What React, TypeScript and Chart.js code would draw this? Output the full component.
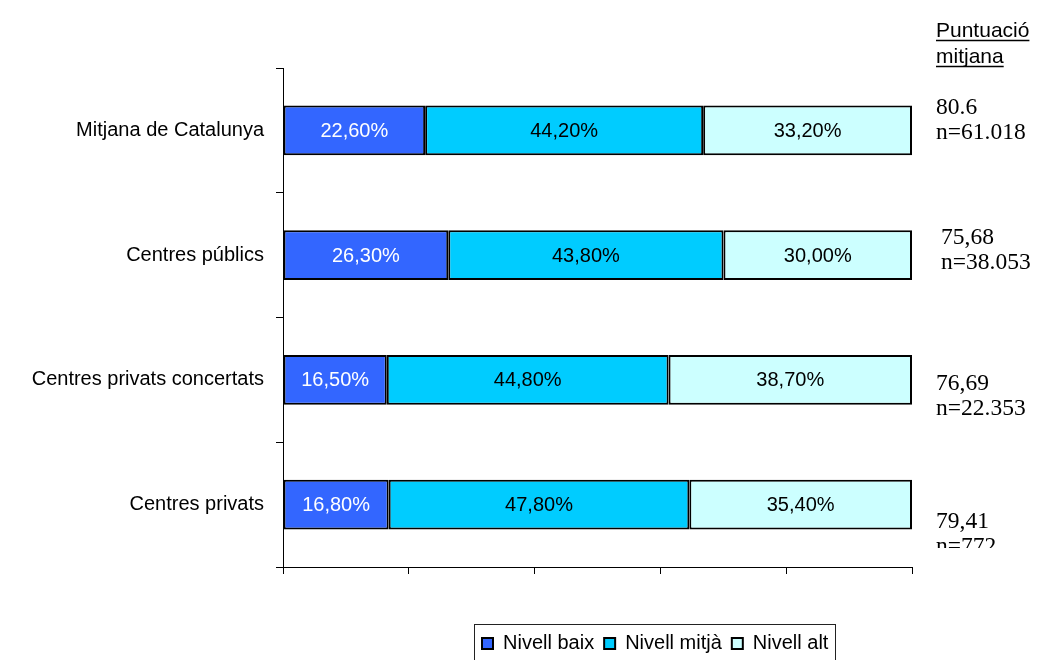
import React, { useEffect, useRef } from 'react';
import { Chart, registerables } from 'chart.js';

Chart.register(...registerables);

// ---- data ----
const categories = ['Mitjana de Catalunya', 'Centres públics', 'Centres privats concertats', 'Centres privats'];
const seriesNames = ['Nivell baix', 'Nivell mitjà', 'Nivell alt'];
const nivellBaix = [22.6, 26.3, 16.5, 16.8];
const nivellMitja = [44.2, 43.8, 44.8, 47.8];
const nivellAlt = [33.2, 30.0, 38.7, 35.4];
const scores = ['80.6', '75,68', '76,69', '79,41'];
const counts = ['n=61.018', 'n=38.053', 'n=22.353', 'n=772'];
const headerLines = ['Puntuació', 'mitjana'];

// ---- style / layout ----
const colors = ['#3366FF', '#00CCFF', '#CCFFFF'];
const SANS = '"Liberation Sans", Arial, sans-serif';
const SERIF = '"Liberation Serif", "Times New Roman", serif';
const annX = [936, 941, 936, 936];
const annDy = [-16, -11, 10, 23];

const raw = [nivellBaix, nivellMitja, nivellAlt];
const totals = categories.map((_, i) => raw.reduce((s, arr) => s + arr[i], 0));
const fmt = (v: number) => v.toFixed(2).replace('.', ',') + '%';

const barLabels = {
  id: 'barLabels',
  afterDatasetsDraw(chart: any) {
    const ctx = chart.ctx;
    ctx.save();
    ctx.font = `20px ${SANS}`;
    ctx.textAlign = 'center';
    ctx.textBaseline = 'middle';
    chart.data.datasets.forEach((_ds: any, di: number) => {
      const meta = chart.getDatasetMeta(di);
      meta.data.forEach((bar: any, i: number) => {
        const { x, y, base } = bar.getProps(['x', 'y', 'base'], true);
        ctx.fillStyle = di === 0 ? '#FFFFFF' : '#000000';
        ctx.fillText(fmt(raw[di][i]), (x + base) / 2, y + 1);
      });
    });
    ctx.restore();
  },
};

const sideNotes = {
  id: 'sideNotes',
  afterLayout(chart: any) {
    const lg = chart.legend;
    if (lg) {
      const h = lg.height;
      lg.left = 472;
      lg.top = 623.5;
      lg.bottom = lg.top + h;
    }
  },
  afterDraw(chart: any) {
    const ctx = chart.ctx;
    ctx.save();
    // header
    ctx.font = `21px ${SANS}`;
    ctx.fillStyle = '#000';
    ctx.strokeStyle = '#000';
    ctx.lineWidth = 1.5;
    ctx.textAlign = 'left';
    ctx.textBaseline = 'alphabetic';
    headerLines.forEach((t, i) => {
      const yb = 37 + i * 26;
      ctx.fillText(t, 936, yb);
      const w = ctx.measureText(t).width;
      ctx.beginPath();
      ctx.moveTo(936, yb + 3.5);
      ctx.lineTo(936 + w, yb + 3.5);
      ctx.stroke();
    });
    // scores
    const meta = chart.getDatasetMeta(0);
    ctx.beginPath();
    ctx.rect(900, 0, 146, chart.chartArea.bottom - 19);
    ctx.clip();
    ctx.font = `23.5px ${SERIF}`;
    meta.data.forEach((bar: any, i: number) => {
      const yb = bar.y + annDy[i];
      ctx.fillText(scores[i], annX[i], yb);
      ctx.fillText(counts[i], annX[i], yb + 25);
    });
    ctx.restore();
    // legend frame
    ctx.save();
    ctx.strokeStyle = '#222';
    ctx.lineWidth = 1;
    ctx.strokeRect(474.5, 624.5, 361, 60);
    ctx.restore();
  },
};

export default function App() {
  const ref = useRef<HTMLCanvasElement>(null);
  useEffect(() => {
    if (!ref.current) return;
    const chart = new Chart(ref.current, {
      type: 'bar',
      data: {
        labels: categories,
        datasets: raw.map((arr, di) => ({
          label: seriesNames[di],
          data: arr.map((v, i) => (v / totals[i]) * 100),
          backgroundColor: colors[di],
          borderColor: '#000000',
          borderWidth: 2,
          borderSkipped: false,
          barPercentage: 0.8,
          categoryPercentage: 0.5,
        })),
      },
      options: {
        indexAxis: 'y',
        animation: false,
        responsive: true,
        maintainAspectRatio: false,
        layout: { padding: { top: 68, right: 134, left: 0, bottom: 0 } },
        plugins: {
          title: { display: false },
          tooltip: { enabled: false },
          legend: {
            display: true,
            position: 'bottom',
            align: 'start',
            labels: {
              boxWidth: 11,
              boxHeight: 11,
              padding: 10,
              color: '#000',
              font: { size: 20, family: SANS },
            },
          },
        },
        scales: {
          x: {
            type: 'linear',
            stacked: true,
            min: 0,
            max: 100,
            ticks: { display: false, stepSize: 20 },
            grid: { drawOnChartArea: false, drawTicks: true, tickLength: 7, color: '#000' },
            border: { display: true, color: '#000', width: 1 },
            afterFit: (scale: any) => {
              const lh = scale.chart.legend ? scale.chart.legend.height : 0;
              scale.height = scale.chart.height - 567 - lh;
            },
          },
          y: {
            type: 'category',
            stacked: true,
            offset: true,
            ticks: { color: '#000', padding: 12, font: { size: 20, family: SANS } },
            grid: { offset: true, drawOnChartArea: false, drawTicks: true, tickLength: 7, color: '#000' },
            border: { display: true, color: '#000', width: 1 },
            afterFit: (scale: any) => {
              scale.width = 283;
            },
          },
        },
      },
      plugins: [barLabels, sideNotes],
    });
    return () => chart.destroy();
  }, []);
  return (
    <div style={{ position: 'fixed', left: 0, top: 0, width: 1046, height: 660, background: '#fff' }}>
      <canvas ref={ref} />
    </div>
  );
}
